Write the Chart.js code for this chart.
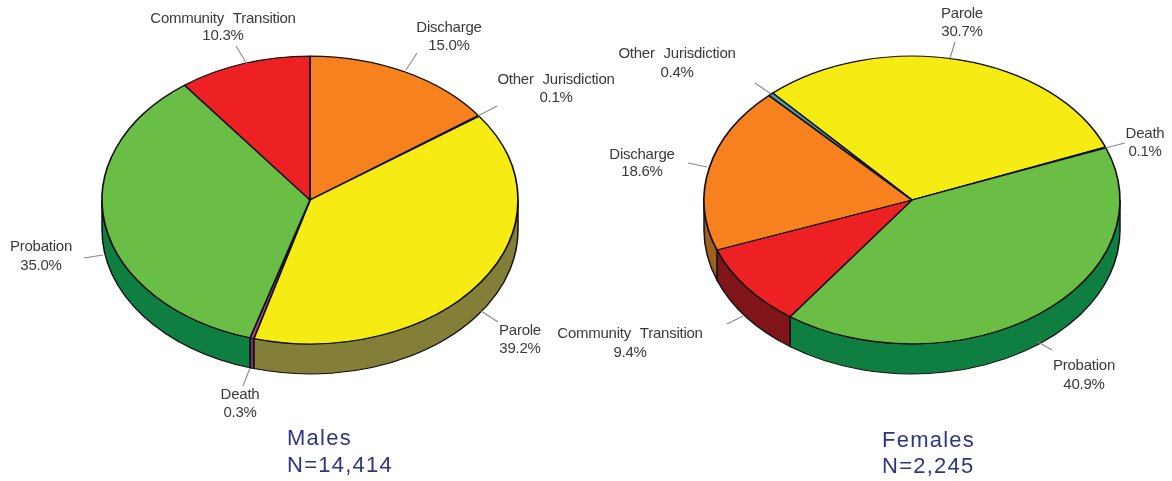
<!DOCTYPE html>
<html><head><meta charset="utf-8">
<script src="https://cdn.jsdelivr.net/npm/chart.js@4"></script>
<style>html,body{margin:0;padding:0;background:#fff;overflow:hidden}
#w{position:relative;width:1172px;height:481px}
canvas{position:absolute;left:0;top:0}</style></head>
<body><div id="w"><canvas id="male" width="1172" height="481"></canvas><canvas id="female" width="1172" height="481"></canvas></div>
<script>
// ---- data ----
const maleCategories = ['Discharge','Other Jurisdiction','Parole','Death','Probation','Community Transition'];
const maleValues = [15.0,0.1,39.2,0.3,35.0,10.3];
const maleValueLabels = ['15.0%','0.1%','39.2%','0.3%','35.0%','10.3%'];
const femaleCategories = ['Parole','Death','Probation','Community Transition','Discharge','Other Jurisdiction'];
const femaleValues = [30.7,0.1,40.9,9.4,18.6,0.4];
const femaleValueLabels = ['30.7%','0.1%','40.9%','9.4%','18.6%','0.4%'];
const maleTitle = ['Males','N=14,414'];
const femaleTitle = ['Females','N=2,245'];
// ---- styling, by category ----
const topColors = {'Parole':'#F6EC13','Probation':'#6ABD45','Community Transition':'#ED2024','Discharge':'#F7811E','Death':'#B5479B','Other Jurisdiction':'#4F9DA8'};
const sideColors = {'Parole':'#847F38','Probation':'#0E7F41','Community Transition':'#7F1518','Discharge':'#A0601C','Death':'#7B2A82','Other Jurisdiction':'#2F6A75'};
// ---- layout ----
const RADIUS = 208, SQUASH = 0.692, DEPTH = 30;
const maleLayout = {cx:310, cy:200, rotation:0, titleX:287, titleY:[439,466],
  labels:[[449,28,46],[556,80,98],[520,331,349],[240,395,413],[41,247,266],[223,19,36]],
  leaders:[[417,53,406,70],[497,106,478,116],[498,322,481,311],[250,368,243,386],[84,258,103,255],[236,46,247,64]]};
const femaleLayout = {cx:912, cy:200, rotation:-42, titleX:882, titleY:[441,467],
  labels:[[962,14,32],[1145,134,152],[1084,366,385],[630,334,353],[642,155,172],[677,54,73]],
  leaders:[[955,42,950,58],[1125,143,1105,148],[1052,350,1038,342],[727,324,743,316],[688,163,707,167],[755,83,771,94]]};

const piePlugin = {
  id:'pie3d',
  beforeDatasetsDraw(chart){
    const L = chart.options.plugins.pie3d.layout, ctx = chart.ctx;
    const meta = chart.getDatasetMeta(0), cats = chart.data.labels;
    const c = meta.data[0];
    ctx.save();
    ctx.translate(L.cx, L.cy); ctx.scale(1,SQUASH); ctx.translate(-c.x,-c.y);
    // extruded wall, from the library's arc geometry
    const d = DEPTH/SQUASH;
    meta.data.forEach((a,i)=>{
      const TAU=Math.PI*2;
      [0,TAU,-TAU].forEach(sh=>{
        const s=Math.max(a.startAngle+sh,0), e=Math.min(a.endAngle+sh,Math.PI);
        if(e<=s) return;
        ctx.beginPath();
        ctx.arc(a.x,a.y,a.outerRadius,s,e);
        ctx.arc(a.x,a.y+d,a.outerRadius,e,s,true);
        ctx.closePath();
        ctx.fillStyle=sideColors[cats[i]];
        ctx.strokeStyle='#111'; ctx.lineWidth=1.5;
        ctx.fill(); ctx.stroke();
      });
    });
  },
  afterDatasetsDraw(chart){
    chart.ctx.restore();
    const L = chart.options.plugins.pie3d.layout, ctx = chart.ctx;
    const lab = chart.options.plugins.pie3d;
    ctx.save();
    ctx.strokeStyle='#8a8a8a'; ctx.lineWidth=1.1;
    L.leaders.forEach(l=>{ctx.beginPath();ctx.moveTo(l[0],l[1]);ctx.lineTo(l[2],l[3]);ctx.stroke();});
    ctx.fillStyle='#3a3a3a'; ctx.textAlign='center'; ctx.textBaseline='middle';
    ctx.font='15px "Liberation Sans", Arial, sans-serif';
    ctx.wordSpacing='5px'; ctx.letterSpacing='-0.25px';
    chart.data.labels.forEach((t,i)=>{
      const p=L.labels[i];
      ctx.fillText(t,p[0],p[1]);
      ctx.fillText(lab.values[i],p[0],p[2]);
    });
    ctx.wordSpacing='0px';
    ctx.fillStyle='#2F3585'; ctx.textAlign='left';
    ctx.font='22px "Liberation Sans", Arial, sans-serif'; ctx.letterSpacing='1.25px';
    lab.title.forEach((t,i)=>ctx.fillText(t,L.titleX,L.titleY[i]));
    ctx.restore();
  }
};

function makePie(id,cats,vals,valueLabels,title,layout){
  return new Chart(document.getElementById(id),{
    type:'pie',
    data:{labels:cats,datasets:[{data:vals,
      backgroundColor:cats.map(c=>topColors[c]),
      borderColor:'#111',borderWidth:1.7}]},
    options:{responsive:false,animation:false,rotation:layout.rotation,radius:RADIUS,
      events:[],
      layout:{padding:0},
      plugins:{legend:{display:false},tooltip:{enabled:false},
        pie3d:{layout,values:valueLabels,title}}},
    plugins:[piePlugin]
  });
}
makePie('male',maleCategories,maleValues,maleValueLabels,maleTitle,maleLayout);
makePie('female',femaleCategories,femaleValues,femaleValueLabels,femaleTitle,femaleLayout);
</script></body></html>
